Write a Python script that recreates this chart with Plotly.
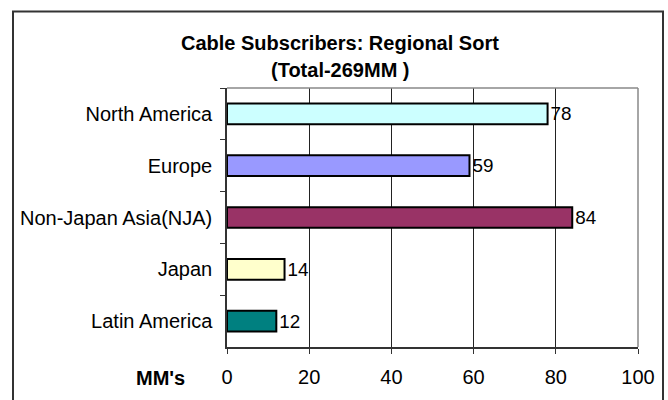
import plotly.graph_objects as go

categories = ["North America", "Europe", "Non-Japan Asia(NJA)", "Japan", "Latin America"]
values = [78, 59, 84, 14, 12]
colors = ["#CCFFFF", "#9999FF", "#993366", "#FFFFCC", "#008080"]
x_ticks = [0, 20, 40, 60, 80, 100]

W, H = 668, 400
L, R, T, B = 227, 30, 88, 51
pw, ph = W - L - R, H - T - B
FONT = "Liberation Sans, Arial, sans-serif"

def px_x(p):
    return (p - L) / pw

def px_y(p):
    return (H - B - p) / ph

fig = go.Figure(go.Bar(
    x=values, y=categories, orientation="h",
    marker=dict(color=colors, line=dict(color="#000000", width=2)),
    width=0.4,
    text=[str(v) for v in values], textposition="outside",
    textfont=dict(family=FONT, size=20, color="#000000"),
    cliponaxis=False,
))

fig.update_layout(
    width=W, height=H,
    margin=dict(l=L, r=R, t=T, b=B),
    paper_bgcolor="white", plot_bgcolor="white",
    font=dict(family=FONT, size=20, color="#000000"),
    showlegend=False,
    xaxis=dict(range=[0, 100], tickvals=x_ticks, showgrid=True, gridcolor="#222222", gridwidth=1,
               zeroline=False, showline=True, linecolor="#333333", linewidth=1.5,
               ticks="outside", ticklen=5, tickcolor="#333333", ticklabelstandoff=6,
               tickfont=dict(size=20)),
    yaxis=dict(autorange="reversed", showgrid=False, showline=True, linecolor="#333333", linewidth=1.5,
               ticks="outside", ticklen=5, tickcolor="#333333", tickson="boundaries",
               ticklabelstandoff=9, tickfont=dict(size=20)),
)

# plot-area top and right border (gray)
fig.add_shape(type="line", xref="paper", yref="paper", x0=0, x1=1, y0=1, y1=1,
              line=dict(color="#888888", width=1.5), layer="above")
fig.add_shape(type="line", xref="paper", yref="paper", x0=1, x1=1, y0=0, y1=1,
              line=dict(color="#888888", width=1.5), layer="above")

# outer chart border
fig.add_shape(type="rect", xref="paper", yref="paper",
              x0=px_x(13), x1=px_x(663), y0=px_y(405), y1=px_y(11),
              line=dict(color="#333333", width=2), fillcolor="rgba(0,0,0,0)", layer="above")

fig.add_annotation(text="<b>Cable Subscribers: Regional Sort</b>", xref="paper", yref="paper",
                   x=px_x(340), y=px_y(43), showarrow=False, xanchor="center", yanchor="middle",
                   font=dict(size=20))
fig.add_annotation(text="<b>(Total-269MM )</b>", xref="paper", yref="paper",
                   x=px_x(340), y=px_y(70), showarrow=False, xanchor="center", yanchor="middle",
                   font=dict(size=20))
fig.add_annotation(text="<b>MM's</b>", xref="paper", yref="paper",
                   x=px_x(160), y=px_y(380), showarrow=False, xanchor="center", yanchor="middle",
                   font=dict(size=20))

fig.write_html("out.html", config={"displayModeBar": False},
               post_script="document.body.style.margin='0px';")
